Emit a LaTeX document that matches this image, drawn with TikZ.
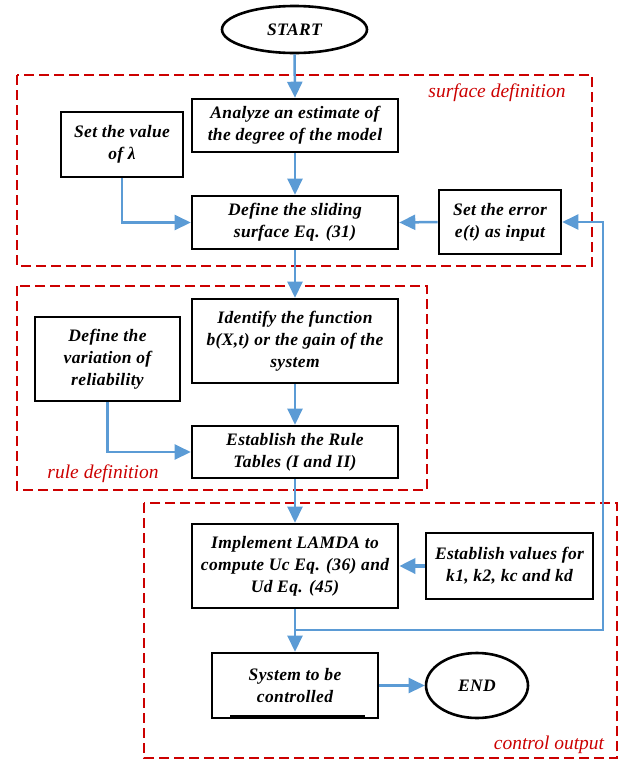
\documentclass[tikz,border=0pt]{standalone}
\usepackage{fontspec}
\setmainfont{Liberation Serif}
\usetikzlibrary{arrows.meta,shapes.geometric}
\definecolor{flowblue}{RGB}{91,155,213}
\definecolor{grpred}{RGB}{204,0,0}
\tikzset{
  box/.style={draw=black, line width=2.6pt, fill=white, inner sep=2pt, align=center,
    font=\fontsize{17.5}{22}\selectfont\bfseries\itshape\addfontfeatures{LetterSpace=2}},
  oval/.style={ellipse, draw=black, line width=2.6pt, fill=white, inner sep=0pt, align=center,
    font=\fontsize{17.5}{22}\selectfont\bfseries\itshape\addfontfeatures{LetterSpace=2}},
  flow/.style={draw=flowblue, line width=2.5pt, -{Triangle[length=16pt,width=15pt]}},
  group/.style={draw=grpred, line width=1.6pt, dash pattern=on 10pt off 5pt},
  grouplabel/.style={text=grpred, font=\fontsize{19.5}{22}\selectfont\itshape, inner sep=0pt}
}
\begin{document}
\begin{tikzpicture}[x=1pt,y=-1pt]
\useasboundingbox (0,0) rectangle (622,761);
% group frames
\draw[group] (17,75) rectangle (592,266);
\draw[group] (17,286) rectangle (427,490);
\draw[group] (144,503) rectangle (617,758);
\node[grouplabel] (lsurf) at (497,93) {surface definition};
\node[grouplabel] (lrule) at (103,474) {rule definition};
\node[grouplabel] (lctrl) at (549,745) {control output};
% nodes
\node[oval, minimum width=145pt, minimum height=47pt] (start) at (294.5,29.5) {START};
\node[box, minimum width=206pt, minimum height=53pt] (analyze) at (295,125.5) {Analyze an estimate of\\the degree of the model};
\node[box, minimum width=122pt, minimum height=65pt] (lambda) at (122,144.5) {Set the value\\of λ};
\node[box, minimum width=206pt, minimum height=53pt] (sliding) at (295,222.5) {Define the sliding\\surface Eq. (31)};
\node[box, minimum width=122pt, minimum height=64pt] (error) at (500,222) {Set the error\\e(t) as input};
\node[box, minimum width=206pt, minimum height=84pt] (identify) at (295,341) {Identify the function\\b(X,t) or the gain of the\\system};
\node[box, minimum width=145pt, minimum height=84pt] (variation) at (107.5,359) {Define the\\variation of\\reliability};
\node[box, minimum width=206pt, minimum height=52pt] (rules) at (295,452) {Establish the Rule\\Tables (I and II)};
\node[box, minimum width=206pt, minimum height=84pt] (lamda) at (295,566) {Implement LAMDA to\\compute Uc Eq. (36) and\\Ud Eq. (45)};
\node[box, minimum width=167pt, minimum height=66pt] (kvalues) at (509.5,566) {Establish values for\\k1, k2, kc and kd};
\node[box, minimum width=166pt, minimum height=65pt] (system) at (295,685.5) {System to be\\controlled};
\node[oval, minimum width=102pt, minimum height=65pt] (end) at (477,685.5) {END};
\draw[line width=4.5pt] (230,717) -- (365,717);
% connectors
\coordinate (fbR) at (603,630);
\draw[flow] (start.south) -- (analyze.north);
\draw[flow] (analyze.south) -- (sliding.north);
\draw[flow] (lambda.south) |- (sliding.west);
\draw[flow] (error.west) -- (sliding.east);
\draw[flow] (sliding.south) -- (identify.north);
\draw[flow] (identify.south) -- (rules.north);
\draw[flow] (variation.south) |- (rules.west);
\draw[flow] (rules.south) -- (lamda.north);
\draw[flow, line width=3.5pt] (kvalues.west) -- (lamda.east);
\draw[flow] (lamda.south) -- (system.north);
\draw[flow] (lamda.south |- fbR) -- (fbR) |- (error.east);
\draw[flow] (system.east) -- (end.west);
\end{tikzpicture}
\end{document}
